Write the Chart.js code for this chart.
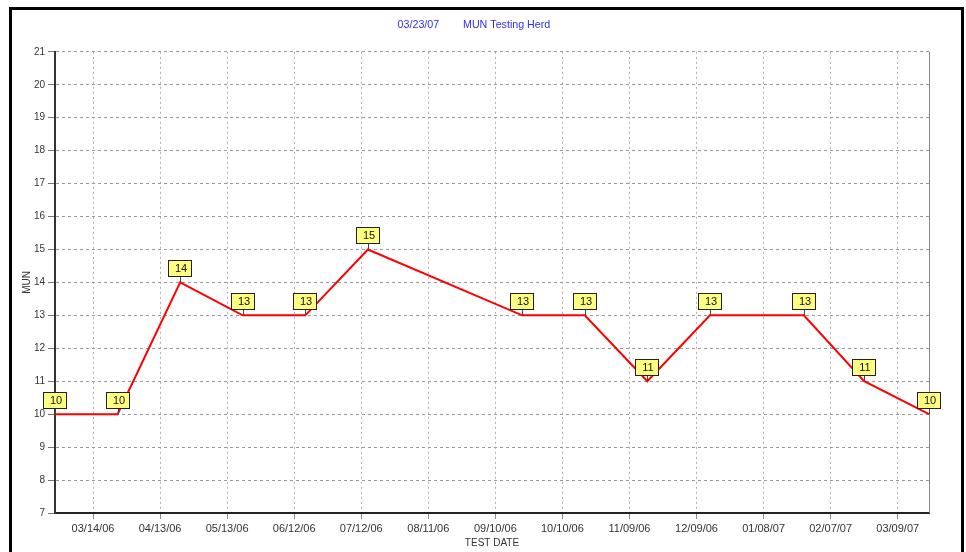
<!DOCTYPE html>
<html>
<head>
<meta charset="utf-8">
<script src="https://cdn.jsdelivr.net/npm/chart.js@4.4.1/dist/chart.umd.min.js"></script>
<style>
  html, body { margin: 0; padding: 0; background: #fff; }
  #wrap { position: relative; width: 966px; height: 552px; overflow: hidden; }
  #frame { position: absolute; left: 9px; top: 7px; width: 955px; height: 600px;
           border: 3px solid #000; box-sizing: border-box; pointer-events: none; }
  canvas { display: block; }
</style>
</head>
<body>
<div id="wrap">
  <canvas id="c" width="966" height="552"></canvas>
  <div id="frame"></div>
</div>
<script>
// ---- data ----
const testDates = ['02/25/06','03/25/06','04/22/06','05/20/06','06/17/06','07/15/06',
                   '09/22/06','10/20/06','11/17/06','12/15/06','01/26/07','02/22/07','03/23/07'];
const munValues = [10, 10, 14, 13, 13, 15, 13, 13, 11, 13, 13, 11, 10];
const tickLabels = ['03/14/06','04/13/06','05/13/06','06/12/06','07/12/06','08/11/06',
                    '09/10/06','10/10/06','11/09/06','12/09/06','01/08/07','02/07/07','03/09/07'];
const axisStart = '02/25/06';
const axisEnd = '03/23/07';
const titleDate = '03/23/07';
const titleText = 'MUN Testing Herd';

function toDay(s) {
  const [m, d, y] = s.split('/').map(Number);
  return Date.UTC(2000 + y, m - 1, d) / 86400000;
}
const tickValues = tickLabels.map(toDay);
const points = testDates.map((d, i) => ({ x: toDay(d), y: munValues[i] }));

const labelBoxes = {
  id: 'labelBoxes',
  afterDatasetsDraw(chart) {
    const ctx = chart.ctx;
    const meta = chart.getDatasetMeta(0);
    ctx.save();
    ctx.font = '11px "Liberation Sans", Arial, sans-serif';
    ctx.textAlign = 'center';
    ctx.textBaseline = 'middle';
    meta.data.forEach((el, i) => {
      const x = Math.round(el.x), y = Math.round(el.y);
      const w = 23, h = 16, gap = 6;
      ctx.strokeStyle = '#444';
      ctx.lineWidth = 1;
      ctx.beginPath();
      ctx.moveTo(x + 0.5, y);
      ctx.lineTo(x + 0.5, y - gap);
      ctx.stroke();
      const bx = x - Math.round(w / 2), by = y - gap - h;
      ctx.fillStyle = '#ffff80';
      ctx.fillRect(bx, by, w, h);
      ctx.strokeStyle = '#222';
      ctx.strokeRect(bx + 0.5, by + 0.5, w, h);
      ctx.fillStyle = '#111';
      ctx.fillText(String(chart.data.datasets[0].data[i].y), x + 1, by + h / 2 + 1);
    });
    ctx.restore();
  }
};

const rightBorder = {
  id: 'rightBorder',
  beforeDatasetsDraw(chart) {
    const { ctx, chartArea: a } = chart;
    ctx.save();
    ctx.strokeStyle = '#888';
    ctx.lineWidth = 1;
    ctx.beginPath();
    ctx.moveTo(a.right + 0.5, a.top);
    ctx.lineTo(a.right + 0.5, a.bottom);
    ctx.stroke();
    ctx.restore();
  }
};

new Chart(document.getElementById('c'), {
  type: 'line',
  data: {
    datasets: [{
      data: points,
      borderColor: '#ff0000',
      borderWidth: 2,
      pointRadius: 0,
      tension: 0,
      fill: false
    }]
  },
  options: {
    responsive: false,
    animation: false,
    devicePixelRatio: 1,
    layout: { padding: { left: 10, right: 37, top: 0, bottom: 0 } },
    plugins: {
      legend: { display: false },
      tooltip: { enabled: false },
      title: {
        display: true,
        text: '   ' + titleDate + '        ' + titleText,
        color: '#2e2ef0',
        font: { size: 10.7, family: '"Liberation Sans", Arial, sans-serif', weight: 'normal' },
        padding: { top: 19, bottom: 20 }
      }
    },
    scales: {
      x: {
        type: 'linear',
        min: toDay(axisStart),
        max: toDay(axisEnd),
        afterBuildTicks(scale) { scale.ticks = tickValues.map(v => ({ value: v })); },
        afterFit(scale) { scale.height = 39; },
        ticks: {
          autoSkip: false, maxRotation: 0, minRotation: 0,
          color: '#333', padding: 3,
          font: { size: 11, family: '"Liberation Sans", Arial, sans-serif' },
          callback: (v, i) => tickLabels[i]
        },
        grid: {
          color: '#b0b0b0', lineWidth: 1,
          tickLength: 6, tickColor: '#888', tickBorderDash: []
        },
        border: { display: true, color: '#222', width: 2, dash: [2, 3] },
        title: {
          display: true, text: 'TEST DATE', color: '#333',
          font: { size: 10, family: '"Liberation Sans", Arial, sans-serif' },
          padding: { top: 0, bottom: 3 }
        }
      },
      y: {
        min: 7, max: 21,
        afterFit(scale) { scale.width = 45; },
        ticks: {
          stepSize: 1, color: '#333', padding: 3,
          font: { size: 10, family: '"Liberation Sans", Arial, sans-serif' }
        },
        grid: {
          color: '#999', lineWidth: 1,
          tickLength: 7, tickColor: '#777', tickBorderDash: []
        },
        border: { display: true, color: '#333', width: 2, dash: [3, 3] },
        title: {
          display: true, text: 'MUN', color: '#333',
          font: { size: 10, family: '"Liberation Sans", Arial, sans-serif' },
          padding: { top: 11, bottom: 0 }
        }
      }
    }
  },
  plugins: [rightBorder, labelBoxes]
});
</script>
</body>
</html>
